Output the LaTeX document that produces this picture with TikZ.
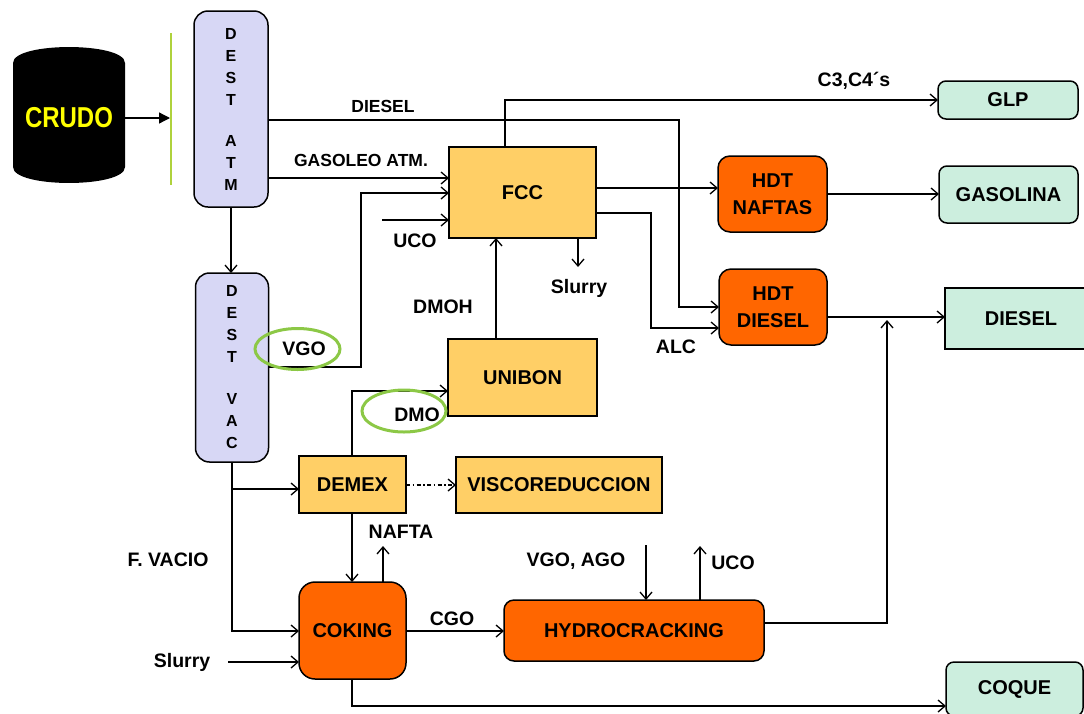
\documentclass[tikz,border=0pt]{standalone}
\usepackage{fontspec}
\setmainfont{Liberation Sans}
\usetikzlibrary{arrows.meta,calc}
\definecolor{lav}{RGB}{215,215,245}
\definecolor{fccy}{RGB}{255,207,102}
\definecolor{orng}{RGB}{255,102,0}
\definecolor{mint}{RGB}{204,238,222}
\definecolor{elgreen}{RGB}{140,200,70}
\definecolor{lgreen}{RGB}{175,210,60}
\definecolor{crudoy}{RGB}{255,255,0}
\begin{document}
\begin{tikzpicture}[x=1pt,y=-1pt,
  box/.style={draw=black, line width=1.5pt, inner sep=0pt, outer sep=0pt, font=\bfseries\fontsize{20}{27}\selectfont, align=center},
  col/.style={box, fill=lav, rounded corners=14pt, font=\bfseries\fontsize{16}{22}\selectfont},
  ybox/.style={box, fill=fccy},
  obox/.style={box, fill=orng, rounded corners=12pt},
  pbox/.style={box, fill=mint, rounded corners=8pt},
  lbl/.style={font=\bfseries\fontsize{19.5}{22}\selectfont, inner sep=0pt},
  slbl/.style={font=\bfseries\fontsize{17.5}{20}\selectfont, inner sep=0pt},
  ln/.style={line width=1.3pt},
  arr/.style={ln, -{Straight Barb[length=7pt,width=12pt]}},
  dda/.style={arr, dash pattern=on 4pt off 2.5pt on 1.5pt off 2.5pt},
  ring/.style={draw=elgreen, line width=3pt},
]
\useasboundingbox (0,0) rectangle (1084,713);

% crude tank
\fill[black] (13,63) .. controls (13,41.7) and (125,41.7) .. (125,63) -- (125,167) .. controls (125,188.3) and (13,188.3) .. (13,167) -- cycle;
\node[minimum width=112pt, minimum height=136pt, inner sep=0pt, outer sep=0pt, text=crudoy, font=\bfseries\fontsize{24}{26}\selectfont] (crudo) at (69,118) {\scalebox{1}[1.2]{CRUDO}};
\draw[lgreen, line width=1.5pt] (171,33) -- (171,185);
\coordinate (gl) at (170,118);
\draw[ln, -{Triangle[length=11pt,width=11pt]}] (crudo.east) -- (gl);

% columns
\node[col, minimum width=74pt, minimum height=196pt] (atm) at (231,109) {D\\E\\S\\T\\[19pt]A\\T\\M};
\node[col, minimum width=73pt, minimum height=189pt] (vac) at (232,367.5) {D\\E\\S\\T\\[20pt]V\\A\\C};

% units
\node[ybox, minimum width=147pt, minimum height=91pt] (fcc) at (522.5,192.5) {FCC};
\node[ybox, minimum width=149pt, minimum height=77pt] (unibon) at (522.5,377.5) {UNIBON};
\node[ybox, minimum width=107pt, minimum height=57pt] (demex) at (352.5,484.5) {DEMEX};
\node[ybox, minimum width=206pt, minimum height=56pt] (visco) at (559,485) {VISCOREDUCCION};
\node[obox, minimum width=109pt, minimum height=76pt] (hdtn) at (772.5,194) {HDT\\NAFTAS};
\node[obox, minimum width=108pt, minimum height=76pt] (hdtd) at (773,307) {HDT\\DIESEL};
\node[obox, rounded corners=16pt, minimum width=107pt, minimum height=97pt] (coking) at (352.5,630.5) {COKING};
\node[obox, rounded corners=10pt, minimum width=260pt, minimum height=61pt] (hydro) at (634,630.5) {HYDROCRACKING};

% products
\node[pbox, minimum width=140pt, minimum height=38pt] (glp) at (1008,100) {GLP};
\node[pbox, minimum width=139pt, minimum height=57pt] (gasolina) at (1008.5,194.5) {GASOLINA};
\node[box, fill=mint, minimum width=152pt, minimum height=61pt] (dieselp) at (1021,318.5) {DIESEL};
\node[pbox, minimum width=137pt, minimum height=54pt] (coque) at (1014.5,689) {COQUE};

% free ends
\coordinate (ucoin) at (382,220);
\coordinate (slurryout) at (578,267);
\coordinate (join) at (887,320);
\coordinate (naftaout) at (383,546);
\coordinate (slurryin) at (228,662);
\coordinate (vgoago) at (646,545);
\coordinate (ucoout) at (700,546);

% connectors
\draw[arr] (atm.south) -- (atm.south |- vac.north);
\draw[arr] (atm.east |- 0,120) -- (679,120) |- (hdtd.west |- 0,307);
\draw[arr] (atm.east |- 0,178) -- (fcc.west |- 0,178);
\draw[arr] (vac.east |- 0,367) -- (361,367) |- (fcc.west |- 0,193);
\draw[arr] (ucoin) -- (fcc.west |- ucoin);
\draw[arr] (unibon.north -| 496,0) -- (fcc.south -| 496,0);
\draw[arr] (fcc.south -| slurryout) -- (slurryout);
\draw[arr] (fcc.north -| 505,0) |- (glp.west);
\draw[arr] (fcc.east |- 0,188) -- (hdtn.west |- 0,188);
\draw[arr] (fcc.east |- 0,213) -- (651,213) |- (hdtd.west |- 0,328);
\draw[arr] (hdtn.east) -- (gasolina.west |- hdtn.east);
\draw[arr] (hdtd.east |- 0,317) -- (dieselp.west |- 0,317);
\draw[arr] (hydro.east |- 0,623) -| (join);
\draw[arr] (vac.south) |- (coking.west |- 0,631);
\draw[arr] (vac.south |- 0,489) -- (demex.west |- 0,489);
\draw[dda] (demex.east |- 0,485) -- (visco.west |- 0,485);
\draw[arr] (demex.north -| 352,0) |- (unibon.west |- 0,391);
\draw[arr] (demex.south -| 352,0) -- (coking.north -| 352,0);
\draw[arr] (coking.north -| naftaout) -- (naftaout);
\draw[arr] (slurryin) -- (coking.west |- slurryin);
\draw[arr] (coking.east |- 0,631) -- (hydro.west |- 0,631);
\draw[arr] (vgoago) -- (hydro.north -| vgoago);
\draw[arr] (hydro.north -| ucoout) -- (ucoout);
\draw[arr] (coking.south -| 352,0) |- (coque.west |- 0,706);

% green rings
\draw[ring] (297.5,349) ellipse [x radius=42.5pt, y radius=20.5pt];
\draw[ring] (404,411) ellipse [x radius=42pt, y radius=21pt];

% labels
\node[slbl] (lDiesel) at (383,106) {DIESEL};
\node[slbl] (lGasoleo) at (361,160) {GASOLEO ATM.};
\node[lbl] (lUco1) at (415,241) {UCO};
\node[lbl] (lDmoh) at (443,307) {DMOH};
\node[lbl] (lSlurry1) at (579,288) {Slurry};
\node[lbl] (lC3) at (854,81) {C3,C4´s};
\node[lbl] (lAlc) at (676,347) {ALC};
\node[lbl] (lVgo) at (304,349) {VGO};
\node[lbl] (lDmo) at (417,415) {DMO};
\node[lbl] (lNafta) at (401,532) {NAFTA};
\node[lbl] (lFvac) at (168,560) {F. VACIO};
\node[lbl] (lSlurry2) at (182,662) {Slurry};
\node[lbl] (lCgo) at (452,619) {CGO};
\node[lbl] (lVgoAgo) at (576,561) {VGO, AGO};
\node[lbl] (lUco2) at (733,563) {UCO};
\end{tikzpicture}
\end{document}
